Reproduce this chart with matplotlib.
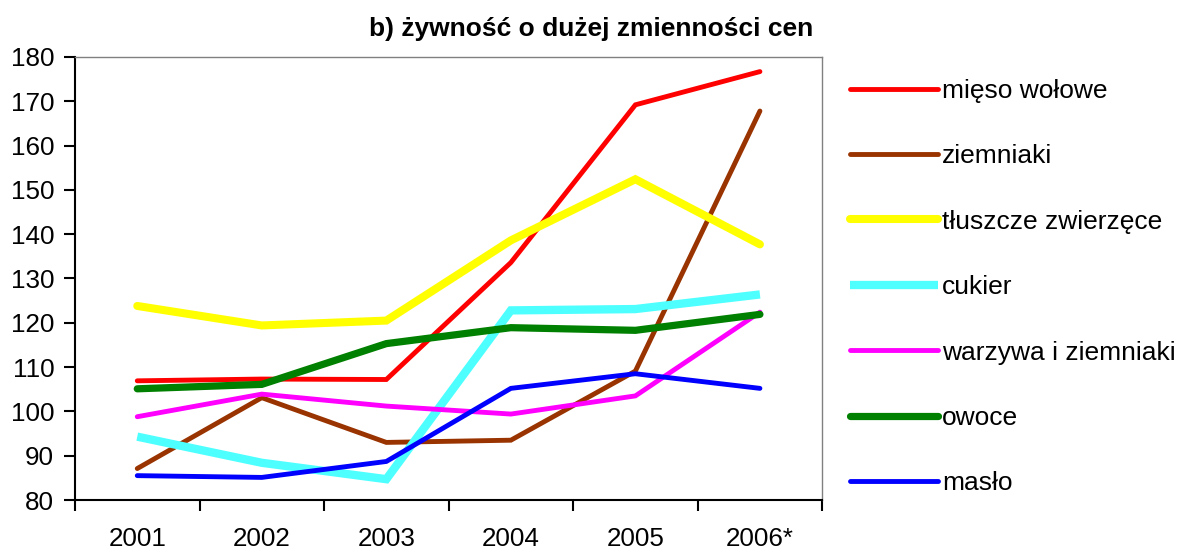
import numpy as np
import matplotlib
matplotlib.use("Agg")
import matplotlib.pyplot as plt

plt.rcParams['font.family'] = ['Liberation Sans', 'DejaVu Sans']

# data
years = ["2001", "2002", "2003", "2004", "2005", "2006*"]
mieso_wolowe = [106.9, 107.3, 107.2, 133.6, 169.2, 176.7]
ziemniaki = [87.1, 103.1, 93.0, 93.5, 109.1, 167.8]
tluszcze = [123.8, 119.4, 120.5, 138.6, 152.4, 137.7]
cukier = [94.3, 88.4, 84.7, 122.8, 123.1, 126.4]
warzywa = [98.8, 103.9, 101.2, 99.4, 103.5, 122.4]
owoce = [105.1, 106.1, 115.3, 118.9, 118.3, 121.9]
maslo = [85.5, 85.1, 88.7, 105.2, 108.5, 105.2]

series = [
    ("mięso wołowe", mieso_wolowe, "#ff0000", 3.5, 'round'),
    ("ziemniaki", ziemniaki, "#993300", 3.5, 'round'),
    ("tłuszcze zwierzęce", tluszcze, "#ffff00", 5.8, 'round'),
    ("cukier", cukier, "#4dffff", 6.0, 'butt'),
    ("warzywa i ziemniaki", warzywa, "#ff00ff", 3.5, 'round'),
    ("owoce", owoce, "#008000", 5.2, 'round'),
    ("masło", maslo, "#0000ff", 3.5, 'round'),
]

fig = plt.figure(figsize=(11.83, 5.5), dpi=100)
ax = fig.add_axes([0.0634, 0.0909, 0.6316, 0.8055])

x = np.arange(len(years))
for label, vals, color, lw, cap in series:
    ax.plot(x, vals, color=color, lw=lw, label=label,
            solid_capstyle=cap, solid_joinstyle='miter')

ax.set_xlim(-0.5, len(years) - 0.5)
ax.set_ylim(80, 180)
ax.set_yticks(np.arange(80, 181, 10))
ax.set_xticks(np.arange(-0.5, len(years)), labels=[])
ax.set_xticks(x, labels=years, minor=True)
ax.tick_params(axis='x', which='major', direction='out', length=8, width=1.5)
ax.tick_params(axis='x', which='minor', length=0, pad=19.5, labelsize=18.7)
ax.tick_params(axis='y', direction='out', length=8, width=1.5, labelsize=18.7, pad=7)

for s in ['left', 'bottom']:
    ax.spines[s].set_color('black')
    ax.spines[s].set_linewidth(1.5)
for s in ['top', 'right']:
    ax.spines[s].set_color('#808080')
    ax.spines[s].set_linewidth(1.0)

fig.text(0.4996, 0.948, "b) żywność o dużej zmienności cen", ha='center',
         va='center', fontsize=19, fontweight='bold')

leg = fig.legend(loc='center left', bbox_to_anchor=(0.7185, 0.478),
                 frameon=False, fontsize=19, handlelength=3.33,
                 handletextpad=0.15, labelspacing=1.57, borderpad=0,
                 borderaxespad=0)

fig.savefig("out.png", dpi=100)
